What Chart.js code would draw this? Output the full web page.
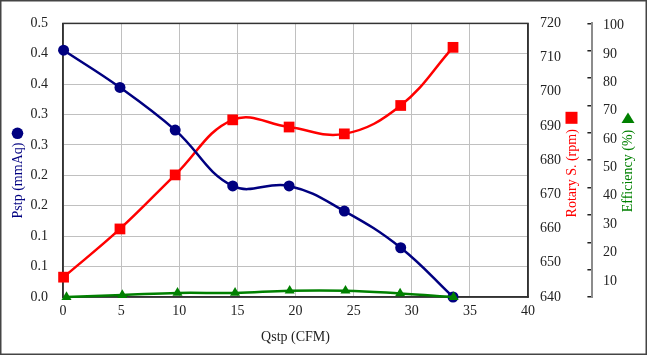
<!DOCTYPE html>
<html>
<head>
<meta charset="utf-8">
<script src="https://cdn.jsdelivr.net/npm/chart.js@4.4.1/dist/chart.umd.min.js"></script>
<style>
  html, body { margin: 0; padding: 0; background: #ffffff; }
  #wrap { width: 647px; height: 356px; }
</style>
</head>
<body>
<div id="wrap"><canvas id="c" width="647" height="356"></canvas></div>
<script>
// ---- data ----
const xFlow    = [0.05, 4.9, 9.65, 14.6, 19.45, 24.2, 29.05, 33.55];
const xFlowEff = [0.3, 5.1, 9.85, 14.8, 19.5, 24.3, 29.0, 33.6];
const pstp     = [0.451, 0.383, 0.305, 0.203, 0.203, 0.157, 0.090, 0.0];
const rpm      = [645.8, 659.9, 675.7, 691.8, 689.7, 687.7, 696.0, 713.0];
const eff      = [0, 0.7, 1.5, 1.5, 2.3, 2.3, 1.3, 0];

const pTicks      = [0, 0.0556, 0.1111, 0.1667, 0.2222, 0.2778, 0.3333, 0.3889, 0.4444, 0.5];
const pTickLabels = ['0.0', '0.1', '0.1', '0.2', '0.2', '0.3', '0.3', '0.4', '0.4', '0.5'];
const eTickLabels = [10, 20, 30, 40, 50, 60, 70, 80, 90, 100];

const xTitle = 'Qstp (CFM)';
const pTitle = 'Pstp (mmAq)';
const rTitle = 'Rotary S. (rpm)';
const eTitle = 'Efficiency (%)';

const NAVY = '#000080', RED = '#ff0000', GREEN = '#008000';
const FONT = '"Liberation Serif", "Times New Roman", serif';

function pts(xs, ys) { return xs.map((x, i) => ({ x: x, y: ys[i] })); }

const framePlugin = {
  id: 'frame',
  beforeDraw(chart) {
    const ctx = chart.ctx;
    ctx.save();
    ctx.fillStyle = '#ffffff';
    ctx.fillRect(0, 0, chart.width, chart.height);
    ctx.strokeStyle = '#444444';
    ctx.lineWidth = 1.5;
    ctx.strokeRect(0.75, 0.75, 645.5, 353.5);
    ctx.restore();
  },
  beforeDatasetsDraw(chart) {
    const ctx = chart.ctx, a = chart.chartArea;
    ctx.save();
    ctx.strokeStyle = '#333333';
    ctx.lineWidth = 1.5;
    ctx.strokeRect(a.left, a.top, a.right - a.left, a.bottom - a.top);
    ctx.restore();
  },
  afterDraw(chart) {
    const ctx = chart.ctx;
    function vText(text, cx, cy, color) {
      ctx.save();
      ctx.translate(cx, cy);
      ctx.rotate(-Math.PI / 2);
      ctx.fillStyle = color;
      ctx.font = '14px ' + FONT;
      ctx.textAlign = 'center';
      ctx.textBaseline = 'middle';
      ctx.fillText(text, 0, 0);
      ctx.restore();
    }
    vText(pTitle, 18, 180.5, NAVY);
    vText(rTitle, 572, 173.3, RED);
    vText(eTitle, 628.5, 171, GREEN);
    ctx.save();
    // circle marker
    ctx.fillStyle = NAVY;
    ctx.beginPath(); ctx.arc(17.5, 133.3, 5.8, 0, Math.PI * 2); ctx.fill();
    // square marker
    ctx.fillStyle = RED;
    ctx.fillRect(565.5, 111.8, 12, 12);
    // triangle marker
    ctx.fillStyle = GREEN;
    ctx.beginPath();
    ctx.moveTo(628, 112.5); ctx.lineTo(634.5, 123); ctx.lineTo(621.5, 123); ctx.closePath();
    ctx.fill();
    ctx.restore();
  }
};

const TICKFONT = { family: FONT, size: 14 };

function build() {
  new Chart(document.getElementById('c'), {
    type: 'line',
    data: {
      datasets: [
        {
          label: eTitle, data: pts(xFlowEff, eff), yAxisID: 'yE', order: 1,
          borderColor: GREEN, backgroundColor: GREEN, borderWidth: 2.5,
          pointStyle: 'triangle', pointRadius: 5.8, pointBorderWidth: 0,
          tension: 0.4, clip: false
        },
        {
          label: pTitle, data: pts(xFlow, pstp), yAxisID: 'y', order: 2,
          borderColor: NAVY, backgroundColor: NAVY, borderWidth: 2.5,
          pointStyle: 'circle', pointRadius: 5.5, pointBorderWidth: 0,
          tension: 0.4, clip: false
        },
        {
          label: rTitle, data: pts(xFlow, rpm), yAxisID: 'yR', order: 3,
          borderColor: RED, backgroundColor: RED, borderWidth: 2.5,
          pointStyle: 'rect', pointRadius: 7.6, pointBorderWidth: 0,
          tension: 0.4, clip: false
        }
      ]
    },
    options: {
      responsive: false,
      animation: false,
      events: [],
      layout: { autoPadding: false, padding: { top: 18, left: 0, right: 0, bottom: 0 } },
      plugins: { legend: { display: false }, tooltip: { enabled: false } },
      scales: {
        x: {
          type: 'linear', min: 0, max: 40,
          ticks: { stepSize: 5, color: '#222', font: TICKFONT, padding: 6, maxRotation: 0 },
          grid: { color: '#c0c0c0', lineWidth: 1, drawTicks: false },
          border: { display: true, color: '#333', width: 1.5 },
          title: { display: true, text: xTitle, color: '#222', font: TICKFONT, padding: { top: 0, bottom: 10 } },
          afterFit(s) { s.height = 59; }
        },
        y: {
          type: 'linear', position: 'left', min: 0, max: 0.5,
          afterBuildTicks(s) { s.ticks = pTicks.map(v => ({ value: v })); },
          ticks: { color: '#222', font: TICKFONT, padding: 15, callback: (v, i) => pTickLabels[i] },
          grid: { color: '#c0c0c0', lineWidth: 1, drawTicks: false },
          border: { display: true, color: '#333', width: 1.5 },
          afterFit(s) { s.width = 63; }
        },
        yR: {
          type: 'linear', position: 'right', min: 640, max: 720,
          ticks: { stepSize: 10, color: '#222', font: TICKFONT, padding: 12 },
          grid: { drawOnChartArea: false, drawTicks: false },
          border: { display: true, color: '#333', width: 1.5 },
          afterFit(s) { s.width = 64; }
        },
        yE: {
          type: 'linear', position: 'right', min: 0, max: 100,
          ticks: { stepSize: 10, display: false },
          grid: { drawOnChartArea: false, drawTicks: true, tickLength: -4.6, color: '#222', lineWidth: 1.5 },
          border: { display: true, color: '#8c8c8c', width: 2 },
          afterFit(s) { s.width = 8; }
        },
        yEL: {
          type: 'linear', position: 'right', min: 4.3, max: 100.8,
          afterBuildTicks(s) { s.ticks = eTickLabels.map(v => ({ value: v })); },
          ticks: { color: '#222', font: TICKFONT, padding: 3 },
          grid: { display: false, drawOnChartArea: false, drawTicks: false },
          border: { display: false },
          afterFit(s) { s.width = 47; }
        }
      }
    },
    plugins: [framePlugin]
  });
}

if (document.fonts && document.fonts.load) {
  document.fonts.load('14px "Liberation Serif"').then(build, build);
} else {
  build();
}
</script>
</body>
</html>
